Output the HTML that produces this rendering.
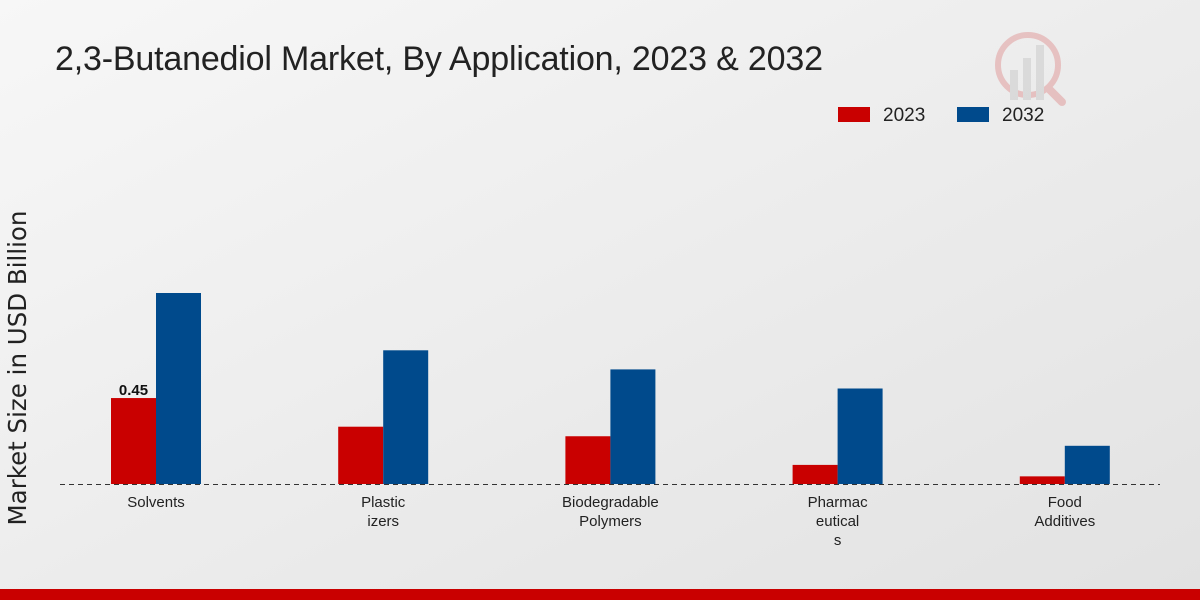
<!DOCTYPE html>
<html><head><meta charset="utf-8"><style>
body{margin:0;width:1200px;height:600px;overflow:hidden;font-family:"Liberation Sans",sans-serif;}
</style></head><body>
<svg width="1200" height="600" xmlns="http://www.w3.org/2000/svg">
<defs><linearGradient id="bg" x1="0" y1="0" x2="1" y2="1"><stop offset="0" stop-color="#f7f7f7"/><stop offset="1" stop-color="#e2e2e2"/></linearGradient></defs>
<rect width="1200" height="600" fill="url(#bg)"/>
<g opacity="0.18">
<circle cx="1028" cy="65" r="30" fill="none" stroke="#c90000" stroke-width="6"/>
<rect x="1010" y="70" width="8" height="30" fill="#888"/><rect x="1023" y="58" width="8" height="42" fill="#888"/><rect x="1036" y="45" width="8" height="55" fill="#888"/>
<line x1="1050" y1="90" x2="1062" y2="102" stroke="#c90000" stroke-width="8" stroke-linecap="round"/>
</g>
<text x="55" y="70" font-size="34" fill="#222" font-family="Liberation Sans Narrow, Liberation Sans, sans-serif" textLength="768">2,3-Butanediol Market, By Application, 2023 &amp; 2032</text>
<g>
<rect x="838" y="107" width="32" height="15" fill="#c90000"/>
<text x="883" y="121" font-size="19" fill="#222">2023</text>
<rect x="957" y="107" width="32" height="15" fill="#004a8c"/>
<text x="1002" y="121" font-size="19" fill="#222">2032</text>
</g>
<text transform="translate(26,368) rotate(-90)" text-anchor="middle" font-size="24.5" fill="#222" font-family="DejaVu Sans, sans-serif">Market Size in USD Billion</text>
<line x1="60" y1="484.5" x2="1160" y2="484.5" stroke="#333" stroke-dasharray="5,4"/>
<g id="bars"></g>
<g id="labels"></g>
<rect x="0" y="589" width="1200" height="11" fill="#c90000"/>
</svg>
<script>
const categories=[["Solvents"],["Plastic","izers"],["Biodegradable","Polymers"],["Pharmac","eutical","s"],["Food","Additives"]];
const values2023=[0.45,0.30,0.25,0.10,0.04];
const values2032=[1.00,0.70,0.60,0.50,0.20];
const NS="http://www.w3.org/2000/svg";
const base=484, pxPerUnit=191;
function y(v){return base-v*pxPerUnit;}
function xc(i){return 156+i*227.2;}
const bars=document.getElementById('bars'), labels=document.getElementById('labels');
categories.forEach((c,i)=>{
  [[values2023,'#c90000',-45,'2023'],[values2032,'#004a8c',0,'2032']].forEach(([arr,col,off,yr])=>{
    const r=document.createElementNS(NS,'rect');
    r.setAttribute('x',xc(i)+off);r.setAttribute('width',45);
    r.setAttribute('y',y(arr[i]));r.setAttribute('height',base-y(arr[i]));
    r.setAttribute('fill',col);
    
    
    bars.appendChild(r);
  });
  c.forEach((line,j)=>{
    const t=document.createElementNS(NS,'text');
    t.setAttribute('x',xc(i));t.setAttribute('y',507+j*19);
    t.setAttribute('text-anchor','middle');t.setAttribute('font-size','15');t.setAttribute('fill','#222');
    t.textContent=line;
    
    
    labels.appendChild(t);
  });
});
const v=document.createElementNS(NS,'text');
v.setAttribute('x',xc(0)-22.5);v.setAttribute('y',y(values2023[0])-3);
v.setAttribute('text-anchor','middle');v.setAttribute('font-size','15');v.setAttribute('font-weight','bold');v.setAttribute('fill','#111');
v.textContent=values2023[0].toFixed(2);


labels.appendChild(v);
</script>
</body></html>
